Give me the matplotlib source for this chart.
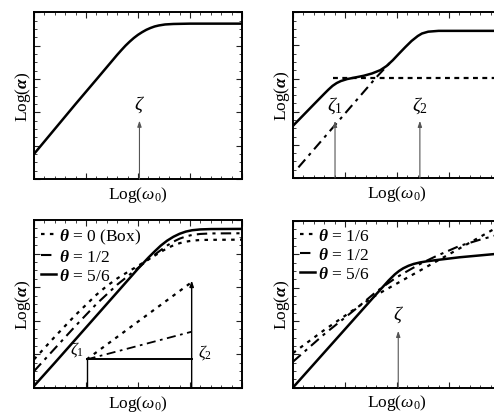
import matplotlib
matplotlib.use("Agg")
import matplotlib.pyplot as plt
from matplotlib.ticker import MultipleLocator, NullFormatter

plt.rcParams['font.family'] = ['Liberation Serif', 'DejaVu Serif']
plt.rcParams['mathtext.fontset'] = 'custom'
plt.rcParams['mathtext.rm'] = 'Liberation Serif'
plt.rcParams['mathtext.it'] = 'Liberation Serif:italic'
plt.rcParams['mathtext.bf'] = 'Liberation Serif:italic:bold'

# ---------------- data (axes-fraction units) -------------
# (a) single relaxation
a_x = [0.0, 0.1, 0.2, 0.3, 0.4, 0.42, 0.44, 0.46, 0.48, 0.5, 0.52, 0.54, 0.56, 0.58,
       0.6, 0.63, 0.67, 0.75, 1.0]
a_y = [0.15, 0.30, 0.45, 0.597, 0.745, 0.773, 0.800, 0.824, 0.846, 0.865, 0.881, 0.895,
       0.906, 0.915, 0.921, 0.927, 0.930, 0.932, 0.932]
a_zeta = 0.507

# (b) two relaxations
b_solid_x = [0.0, 0.1, 0.15, 0.17, 0.19, 0.21, 0.23, 0.26, 0.3, 0.34, 0.38, 0.42, 0.45,
             0.48, 0.51, 0.54, 0.57, 0.6, 0.62, 0.65, 0.7, 1.0]
b_solid_y = [0.315, 0.444, 0.508, 0.533, 0.556, 0.573, 0.585, 0.597, 0.607, 0.617, 0.631,
             0.651, 0.676, 0.711, 0.751, 0.790, 0.827, 0.857, 0.872, 0.883, 0.888, 0.888]
b_dash_x = [0.19, 1.0]
b_dash_y = [0.602, 0.602]
b_dashdot_x = [0.026, 0.40, 0.47]
b_dashdot_y = [0.064, 0.607, 0.70]
b_zeta1, b_zeta2 = 0.202, 0.61

# (c) box and other theta values, zeta1..zeta2
c_box_x = [0.0, 0.1, 0.2, 0.3, 0.35, 0.4, 0.45, 0.5, 0.55, 0.6, 0.64, 0.67, 0.7, 0.73,
           0.76, 0.8, 0.85, 1.0]
c_box_y = [0.17, 0.305, 0.435, 0.555, 0.607, 0.652, 0.69, 0.727, 0.765, 0.803, 0.832,
           0.849, 0.862, 0.871, 0.877, 0.881, 0.882, 0.883]
c_half_x = [0.0, 0.1, 0.2, 0.3, 0.4, 0.5, 0.55, 0.6, 0.64, 0.67, 0.7, 0.73, 0.76, 0.8,
            0.85, 1.0]
c_half_y = [0.10, 0.235, 0.37, 0.50, 0.615, 0.715, 0.765, 0.812, 0.848, 0.871, 0.889,
            0.902, 0.911, 0.917, 0.92, 0.921]
c_56_x = [0.0, 0.1, 0.2, 0.3, 0.4, 0.5, 0.55, 0.58, 0.61, 0.64, 0.67, 0.7, 0.73, 0.76,
          0.8, 0.85, 1.0]
c_56_y = [0.012, 0.15, 0.29, 0.43, 0.57, 0.71, 0.776, 0.813, 0.848, 0.877, 0.900, 0.918,
          0.931, 0.939, 0.944, 0.946, 0.947]
c_zeta1, c_zeta2 = 0.253, 0.758
c_box_level = 0.17
c_inset_box_end = 0.63
c_inset_half_end = 0.335

# (d) single zeta, theta values
d_16_x = [0.0, 0.15, 0.306, 0.4, 0.5, 0.6, 0.7, 0.8, 0.9, 1.0]
d_16_y = [0.207, 0.345, 0.479, 0.555, 0.625, 0.695, 0.765, 0.835, 0.905, 0.975]
d_half_x = [0.0, 0.15, 0.3, 0.4, 0.45, 0.5, 0.5625, 0.62, 0.69, 0.8, 0.9, 1.0]
d_half_y = [0.155, 0.32, 0.47, 0.575, 0.62, 0.663, 0.708, 0.748, 0.79, 0.85, 0.888, 0.922]
d_56_x = [0.0, 0.1, 0.2, 0.3, 0.4, 0.46, 0.49, 0.51, 0.53, 0.555, 0.58, 0.61, 0.643,
          0.7, 0.8, 1.0]
d_56_y = [0.0, 0.14, 0.28, 0.42, 0.56, 0.643, 0.68, 0.70, 0.716, 0.731, 0.742, 0.751,
          0.758, 0.767, 0.782, 0.805]
d_zeta = 0.506

# ---------------- figure ----------------
W, H = 494, 414
fig = plt.figure(figsize=(W / 100, H / 100), dpi=100)


def make_ax(left, top, bottom, width=208):
    ax = fig.add_axes([left / W, 1 - bottom / H, width / W, (bottom - top) / H])
    ax.set_xlim(0, 1)
    ax.set_ylim(0, 1)
    ax.xaxis.set_major_locator(MultipleLocator(0.25))
    ax.xaxis.set_minor_locator(MultipleLocator(0.05))
    ax.yaxis.set_major_locator(MultipleLocator(0.2))
    ax.yaxis.set_minor_locator(MultipleLocator(0.05))
    ax.xaxis.set_major_formatter(NullFormatter())
    ax.yaxis.set_major_formatter(NullFormatter())
    ax.tick_params(which='both', direction='in', top=True, right=True, colors='#222222',
                   pad=0)
    ax.tick_params(which='major', length=4, width=0.8)
    ax.tick_params(which='minor', length=2, width=0.6)
    for s in ax.spines.values():
        s.set_linewidth(1.4)
    ax.set_xlabel(r'Log($\omega_0$)', fontsize=12.5, labelpad=3.5)
    ax.set_ylabel(r'Log($\mathbf{\alpha}$)', fontsize=12.5, labelpad=1)
    return ax


def arrow(ax, x, ytop, color='#555555', lw=0.8):
    ax.annotate('', xy=(x, ytop), xytext=(x, 0.0),
                arrowprops=dict(arrowstyle='-|>,head_length=0.35,head_width=0.12',
                                color=color, lw=lw, shrinkA=0, shrinkB=0))


dotted = (0, (1.6, 2.4))
dashdot = (0, (5, 2.5, 1.5, 2.5))
shortdash = (0, (2.2, 2.0))

legend_kw = dict(loc='upper left', frameon=False, fontsize=12.5, handlelength=0.85,
                 handletextpad=0.2, labelspacing=0.15, borderaxespad=0.1,
                 borderpad=0.3)

# (a)
ax1 = make_ax(34, 13.3, 180)
ax1.plot(a_x, a_y, color='black', lw=1.8)
arrow(ax1, a_zeta, 0.35)
ax1.text(a_zeta, 0.39, r'$\zeta$', ha='center', va='bottom', fontsize=14)

# (b)
ax2 = make_ax(293, 13.3, 179)
ax2.plot(b_solid_x, b_solid_y, color='black', lw=1.8)
ax2.plot(b_dash_x, b_dash_y, color='black', lw=1.6, ls=shortdash)
ax2.plot(b_dashdot_x, b_dashdot_y, color='black', lw=1.5, ls=dashdot)
arrow(ax2, b_zeta1, 0.345)
arrow(ax2, b_zeta2, 0.345)
ax2.text(b_zeta1, 0.38, r'$\zeta_1$', ha='center', va='bottom', fontsize=14)
ax2.text(b_zeta2, 0.38, r'$\zeta_2$', ha='center', va='bottom', fontsize=14)

# (c)
ax3 = make_ax(34, 221, 389)
ax3.plot(c_box_x, c_box_y, color='black', lw=1.6, ls=dotted, label=r'$\mathbf{\theta}$ = 0 (Box)')
ax3.plot(c_half_x, c_half_y, color='black', lw=1.5, ls=dashdot, label=r'$\mathbf{\theta}$ = 1/2')
ax3.plot(c_56_x, c_56_y, color='black', lw=1.8, label=r'$\mathbf{\theta}$ = 5/6')
ax3.plot([c_zeta1, c_zeta1], [0, c_box_level], color='black', lw=1.0)
ax3.plot([c_zeta1, c_zeta2], [c_box_level, c_box_level], color='black', lw=1.4)
arrow(ax3, c_zeta2, 0.64, color='black', lw=1.0)
ax3.plot([c_zeta1, c_zeta2], [c_box_level, c_inset_box_end], color='black', lw=1.6, ls=dotted)
ax3.plot([c_zeta1, c_zeta2], [c_box_level, c_inset_half_end], color='black', lw=1.3, ls=dashdot)
ax3.text(c_zeta1 - 0.015, c_box_level + 0.01, r'$\zeta_1$', ha='right', va='bottom', fontsize=12)
ax3.text(c_zeta2 + 0.03, c_box_level - 0.01, r'$\zeta_2$', ha='left', va='bottom', fontsize=12)
ax3.legend(**legend_kw)

# (d)
ax4 = make_ax(293, 222, 388.5)
ax4.plot(d_16_x, d_16_y, color='black', lw=1.6, ls=dotted, label=r'$\mathbf{\theta}$ = 1/6')
ax4.plot(d_half_x, d_half_y, color='black', lw=1.5, ls=dashdot, label=r'$\mathbf{\theta}$ = 1/2')
ax4.plot(d_56_x, d_56_y, color='black', lw=1.8, label=r'$\mathbf{\theta}$ = 5/6')
arrow(ax4, d_zeta, 0.34)
ax4.text(d_zeta, 0.38, r'$\zeta$', ha='center', va='bottom', fontsize=14)
ax4.legend(**legend_kw)

fig.savefig('out.png', dpi=100)
